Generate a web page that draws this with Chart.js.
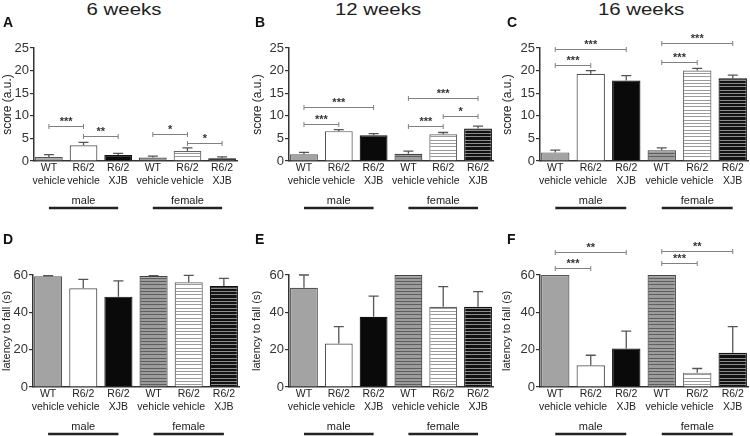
<!DOCTYPE html>
<html>
<head>
<meta charset="utf-8">
<script src="https://cdn.jsdelivr.net/npm/chart.js@4.4.1/dist/chart.umd.min.js"></script>
<style>
    body { margin: 0; background: #fff; }
    #figure { position: relative; width: 750px; height: 436px; overflow: hidden; font-family: "Liberation Sans", Arial, sans-serif; }
    .panel { position: absolute; width: 250px; height: 218px; }
    .week { position: absolute; top: 1px; font-size: 17px; line-height: 17px; color: #222; white-space: nowrap; transform: translateX(-50%) scaleX(1.2); }
    .letter { position: absolute; font-size: 14px; line-height: 14px; font-weight: bold; color: #111; }
</style>
</head>
<body>
<div id="figure"></div>
<script>
// 그룹 / 막대 라벨
const groupLabels = ['male', 'female'];
const barLabels = [['WT', 'vehicle'], ['R6/2', 'vehicle'], ['R6/2', 'XJB'], ['WT', 'vehicle'], ['R6/2', 'vehicle'], ['R6/2', 'XJB']];
const weekTitles = ['6 weeks', '12 weeks', '16 weeks'];
const scoreTicks = [0, 5, 10, 15, 20, 25];
const latencyTicks = [0, 20, 40, 60];

// score (a.u.), mean / SEM
const score6 = [0.9, 3.5, 1.3, 0.75, 2.2, 0.6];
const score6Sem = [0.5, 0.6, 0.4, 0.35, 0.7, 0.3];
const score12 = [1.5, 6.6, 5.7, 1.6, 5.9, 7.2];
const score12Sem = [0.4, 0.35, 0.35, 0.6, 0.4, 0.5];
const score16 = [1.9, 19.3, 17.8, 2.4, 20.0, 18.3];
const score16Sem = [0.5, 0.7, 1.1, 0.5, 0.5, 0.7];

// latency to fall (s), mean / SEM
const latency6 = [59.3, 52.9, 48.4, 59.5, 56.1, 54.1];
const latency6Sem = [0.3, 4.8, 8.4, 0.2, 3.7, 4.1];
const latency12 = [53.2, 23.3, 37.6, 60, 43, 43];
const latency12Sem = [6.8, 9.0, 11.1, 0, 10.8, 8.1];
const latency16 = [60, 11.6, 20.6, 60, 7.7, 18.3];
const latency16Sem = [0, 5.4, 9.3, 0, 2.2, 14.0];

// 유의성 표시: [from bar, to bar, level, stars]
const sig6 = [[0, 1, 7.7, '***'], [1, 2, 5.6, '**'], [3, 4, 5.9, '*'], [4, 5, 4.0, '*']];
const sig12 = [[0, 1, 8.2, '***'], [0, 2, 11.9, '***'], [3, 4, 7.8, '***'], [4, 5, 10.0, '*'], [3, 5, 13.9, '***']];
const sig16 = [[0, 1, 21.3, '***'], [0, 2, 24.8, '***'], [3, 4, 22.0, '***'], [3, 5, 26.0, '***']];
const sigLatency16 = [[0, 1, 63.6, '***'], [0, 2, 72.2, '**'], [3, 4, 66.3, '***'], [3, 5, 72.9, '**']];

const panels = [
    { letter: 'A', col: 0, row: 0, values: score6, sem: score6Sem, sig: sig6, ticks: scoreTicks, yTitle: 'score (a.u.)', titleSize: 12, area: { left: 34, right: 237, top: 48, bottom: 161 } },
    { letter: 'B', col: 1, row: 0, values: score12, sem: score12Sem, sig: sig12, ticks: scoreTicks, yTitle: 'score (a.u.)', titleSize: 12, area: { left: 39, right: 243, top: 48, bottom: 161 } },
    { letter: 'C', col: 2, row: 0, values: score16, sem: score16Sem, sig: sig16, ticks: scoreTicks, yTitle: 'score (a.u.)', titleSize: 12, area: { left: 40, right: 248, top: 48, bottom: 161 } },
    { letter: 'D', col: 0, row: 1, values: latency6, sem: latency6Sem, sig: [], ticks: latencyTicks, yTitle: 'latency to fall (s)', titleSize: 11, area: { left: 33, right: 239, top: 57, bottom: 169 } },
    { letter: 'E', col: 1, row: 1, values: latency12, sem: latency12Sem, sig: [], ticks: latencyTicks, yTitle: 'latency to fall (s)', titleSize: 11, area: { left: 39, right: 243, top: 57, bottom: 169 } },
    { letter: 'F', col: 2, row: 1, values: latency16, sem: latency16Sem, sig: sigLatency16, ticks: latencyTicks, yTitle: 'latency to fall (s)', titleSize: 11, area: { left: 40, right: 248, top: 57, bottom: 169 } }
];

const weekCenters = [124, 378, 641];
const PANEL_W = 250;
const PANEL_H = 218;

Chart.defaults.font.family = '"Liberation Sans", Arial, sans-serif';

// 가로 줄무늬 패턴
function makeStripes(bg, line) {
    const tile = document.createElement('canvas');
    tile.width = 4;
    tile.height = 10;
    const c = tile.getContext('2d');
    c.fillStyle = bg;
    c.fillRect(0, 0, 4, 10);
    c.fillStyle = line;
    [0, 3, 6].forEach(y => c.fillRect(0, y, 4, 1));
    return c.createPattern(tile, 'repeat');
}

const fills = ['#a3a3a3', '#ffffff', '#0a0a0a', makeStripes('#9c9c9c', '#5e5e5e'), makeStripes('#ffffff', '#9a9a9a'), makeStripes('#111111', '#8c8c8c')];
const borders = ['#555', '#555', '#111', '#444', '#666', '#111'];

// 에러바, 유의성 괄호, 성별 라벨
const panelMarks = {
    id: 'panelMarks',
    afterDatasetsDraw(chart, args, opts) {
        const { ctx } = chart;
        const x = chart.scales.x;
        const y = chart.scales.y;
        const p = opts.panel;
        ctx.save();

        // 에러바 (위쪽만)
        ctx.strokeStyle = '#555';
        ctx.lineWidth = 1.3;
        p.values.forEach((v, i) => {
            if (!(p.sem[i] > 0)) return;
            const px = x.getPixelForValue(i);
            const y0 = y.getPixelForValue(v);
            const y1 = y.getPixelForValue(v + p.sem[i]);
            ctx.beginPath();
            ctx.moveTo(px, y0);
            ctx.lineTo(px, y1);
            ctx.moveTo(px - 5, y1);
            ctx.lineTo(px + 5, y1);
            ctx.stroke();
        });

        // 유의성 괄호
        p.sig.forEach(([a, b, level, stars]) => {
            const xa = x.getPixelForValue(a);
            const xb = x.getPixelForValue(b);
            const yy = Math.round(y.getPixelForValue(level)) + 0.5;
            ctx.strokeStyle = '#808080';
            ctx.lineWidth = 1;
            ctx.beginPath();
            ctx.moveTo(xa, yy);
            ctx.lineTo(xb, yy);
            ctx.moveTo(xa, yy - 2.5);
            ctx.lineTo(xa, yy + 2.5);
            ctx.moveTo(xb, yy - 2.5);
            ctx.lineTo(xb, yy + 2.5);
            ctx.stroke();
            ctx.fillStyle = '#333';
            ctx.font = 'bold 11px "Liberation Sans", Arial, sans-serif';
            ctx.textAlign = 'center';
            ctx.textBaseline = 'alphabetic';
            ctx.fillText(stars, (xa + xb) / 2, yy - 1.5);
        });

        // male / female
        const axisY = y.getPixelForValue(0);
        ctx.fillStyle = '#222';
        ctx.strokeStyle = '#222';
        ctx.lineWidth = 2.5;
        ctx.font = '11px "Liberation Sans", Arial, sans-serif';
        ctx.textAlign = 'center';
        ctx.textBaseline = 'middle';
        groupLabels.forEach((label, g) => {
            const first = x.getPixelForValue(g * 3);
            const mid = x.getPixelForValue(g * 3 + 1);
            const last = x.getPixelForValue(g * 3 + 2);
            ctx.fillText(label, mid, axisY + 40);
            ctx.beginPath();
            ctx.moveTo(first, axisY + 47);
            ctx.lineTo(last, axisY + 47);
            ctx.stroke();
        });
        ctx.restore();
    }
};

function drawPanel(p) {
    const fig = document.getElementById('figure');
    const box = document.createElement('div');
    box.className = 'panel';
    box.style.left = (p.col * PANEL_W) + 'px';
    box.style.top = (p.row * PANEL_H) + 'px';
    const canvas = document.createElement('canvas');
    canvas.width = PANEL_W;
    canvas.height = PANEL_H;
    box.appendChild(canvas);
    fig.appendChild(box);

    const letter = document.createElement('div');
    letter.className = 'letter';
    letter.textContent = p.letter;
    letter.style.left = (p.col * PANEL_W + (p.col ? 5 + (p.col - 1) * 2 : 3)) + 'px';
    letter.style.top = (p.row ? 232 : 15) + 'px';
    fig.appendChild(letter);

    const yMax = p.ticks[p.ticks.length - 1];

    new Chart(canvas, {
        type: 'bar',
        data: {
            datasets: [{
                data: p.values.map((v, i) => ({ x: i, y: v })),
                backgroundColor: fills,
                borderColor: borders,
                borderWidth: 1.2,
                barPercentage: 0.8,
                categoryPercentage: 1
            }]
        },
        options: {
            responsive: false,
            animation: false,
            layout: { padding: { left: 0, top: p.area.top, right: PANEL_W - p.area.right, bottom: 0 } },
            plugins: {
                legend: { display: false },
                tooltip: { enabled: false },
                panelMarks: { panel: p }
            },
            scales: {
                x: {
                    type: 'linear',
                    offset: false,
                    min: -0.43,
                    max: 5.43,
                    afterBuildTicks: s => { s.ticks = barLabels.map((l, i) => ({ value: i })); },
                    afterFit: s => {
                        s.height = PANEL_H - p.area.bottom;
                        s.paddingLeft = 0;
                        s.paddingRight = 0;
                    },
                    grid: { display: false, drawTicks: false },
                    border: { color: '#333', width: 1.5 },
                    ticks: {
                        callback: v => barLabels[v],
                        font: { size: 10.5, lineHeight: 1.3 },
                        color: '#222',
                        padding: 0,
                        maxRotation: 0,
                        autoSkip: false
                    }
                },
                y: {
                    min: 0,
                    max: yMax,
                    afterBuildTicks: s => { s.ticks = p.ticks.map(v => ({ value: v })); },
                    afterFit: s => {
                        s.width = p.area.left;
                        s.paddingTop = 0;
                        s.paddingBottom = 0;
                    },
                    grid: { drawOnChartArea: false, color: '#333', tickLength: 4, lineWidth: 1.2 },
                    border: { color: '#333', width: 1.5 },
                    ticks: { font: { size: 13 }, color: '#333', padding: 1 },
                    title: { display: true, text: p.yTitle, font: { size: p.titleSize, lineHeight: 1.2 }, color: '#222', padding: 0 }
                }
            }
        },
        plugins: [panelMarks]
    });
}

// 초기화
weekTitles.forEach((t, i) => {
    const el = document.createElement('div');
    el.className = 'week';
    el.textContent = t;
    el.style.left = weekCenters[i] + 'px';
    document.getElementById('figure').appendChild(el);
});
panels.forEach(drawPanel);
</script>
</body>
</html>
